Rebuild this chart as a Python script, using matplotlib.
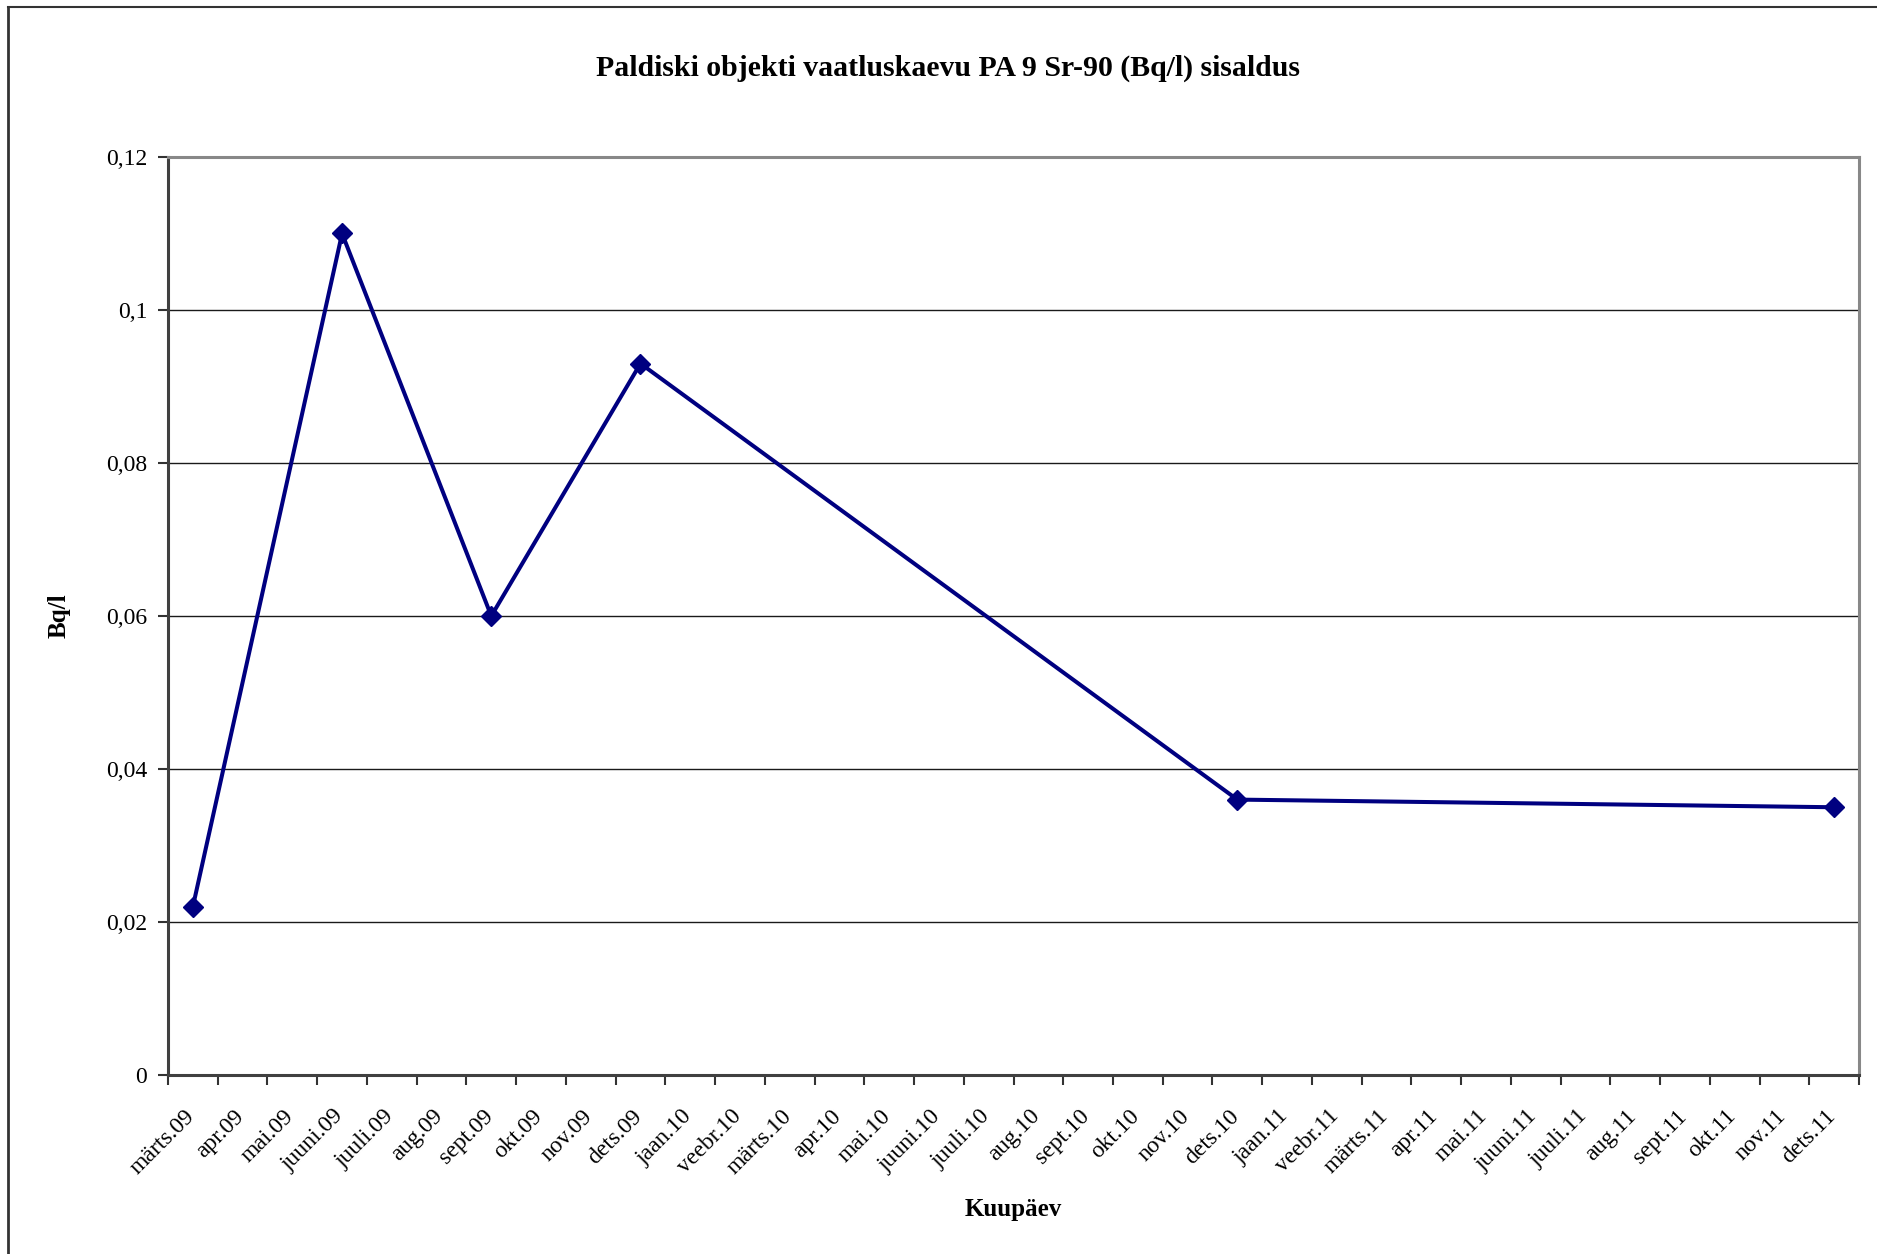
import pandas as pd
import matplotlib.pyplot as plt
from matplotlib.lines import Line2D
from matplotlib.transforms import ScaledTranslation

plt.rcParams['font.family'] = ['Liberation Serif', 'DejaVu Serif']

# mõõtmiste kuud ja Sr-90 sisaldus (Bq/l)
kuud = ['2009-03', '2009-06', '2009-09', '2009-12', '2010-12', '2011-12']
sisaldus = [0.022, 0.11, 0.06, 0.093, 0.036, 0.035]

# x-telje kuud
kuu_nimed = ['jaan', 'veebr', 'märts', 'apr', 'mai', 'juuni',
             'juuli', 'aug', 'sept', 'okt', 'nov', 'dets']
telje_algus = '2009-03'
telje_lopp = '2011-12'

# y-telg
y_ticks = [0, 0.02, 0.04, 0.06, 0.08, 0.1, 0.12]
y_labels = ['0', '0,02', '0,04', '0,06', '0,08', '0,1', '0,12']

perioodid = pd.period_range(telje_algus, telje_lopp, freq='M')
x_labels = [f"{kuu_nimed[p.month - 1]}.{p.year % 100:02d}" for p in perioodid]
algus = pd.Period(telje_algus, 'M')
# iga punkt oma kuu keskel (nagu Exceli kuupäevatelg)
x = [(pd.Period(k, 'M') - algus).n + 0.5 for k in kuud]
n = len(perioodid)

fig = plt.figure(figsize=(18.77, 12.54), dpi=100)
ax = fig.add_axes([168 / 1877, 1 - 1075 / 1254, (1859 - 168) / 1877, (1075 - 157) / 1254])

ax.plot(x, sisaldus, color='#000080', lw=2.9, marker='D', ms=10.5,
        markerfacecolor='#000080', markeredgecolor='#000080', zorder=3)

ax.set_xlim(0, n)
ax.set_ylim(0, 0.12)
ax.set_yticks(y_ticks)
ax.set_yticklabels(y_labels, fontsize=17)
ax.yaxis.grid(True, color='#1a1a1a', lw=1.0)
ax.set_axisbelow(True)

ax.set_xticks(range(n + 1))
ax.set_xticklabels([])
ax.set_xticks([i + 0.5 for i in range(n)], minor=True)
ax.set_xticklabels(x_labels, minor=True, rotation=45, ha='right', va='top',
                   rotation_mode='anchor', fontsize=17)
ax.tick_params(axis='x', which='minor', length=0, pad=22)
ax.tick_params(axis='both', which='major', length=7, width=1.5, color='#333333')
ax.tick_params(axis='y', pad=8)
# sildid veidi vasakule, nagu Excelis
nihe = ScaledTranslation(-9 / 100, 0, fig.dpi_scale_trans)
for lbl in ax.get_xticklabels(minor=True):
    lbl.set_transform(lbl.get_transform() + nihe)

for s in ['left', 'bottom']:
    ax.spines[s].set_color('#404040')
    ax.spines[s].set_linewidth(2.2)
for s in ['top', 'right']:
    ax.spines[s].set_color('#888888')
    ax.spines[s].set_linewidth(2.2)

ax.set_xlabel('Kuupäev', fontsize=18, fontweight='bold', labelpad=0)
ax.xaxis.set_label_coords(0.5, -0.134)
ax.set_ylabel('Bq/l', fontsize=18, fontweight='bold')
ax.yaxis.set_label_coords(-0.0575, 0.5)

fig.text(948 / 1877, 1 - 68 / 1254, 'Paldiski objekti vaatluskaevu PA 9 Sr-90 (Bq/l) sisaldus',
         ha='center', va='center', fontsize=21.4, fontweight='bold')

# diagrammi välimine raam (osaliselt välja lõigatud)
fig.add_artist(Line2D([8 / 1877, 8 / 1877], [0, 1 - 7 / 1254], color='#333333', lw=2))
fig.add_artist(Line2D([8 / 1877, 1], [1 - 7 / 1254, 1 - 7 / 1254], color='#333333', lw=1.5))

fig.savefig('out.png', dpi=100)
